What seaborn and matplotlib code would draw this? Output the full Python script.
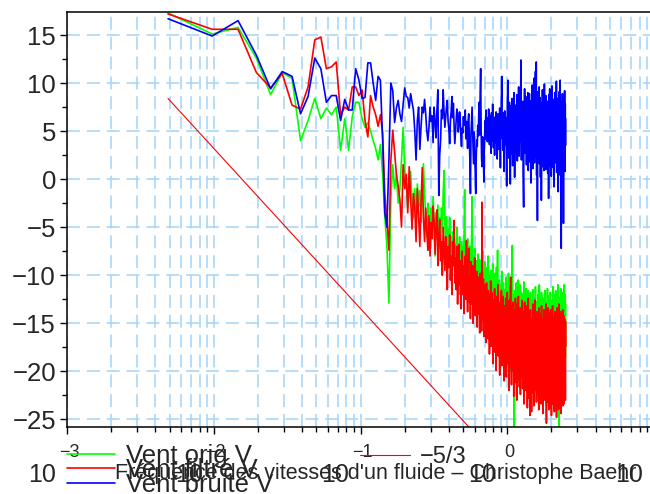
import numpy as np
import pandas as pd
import matplotlib
matplotlib.use("Agg")
import matplotlib.pyplot as plt
import seaborn as sns
from matplotlib.ticker import FixedLocator, LogLocator, NullFormatter, MultipleLocator

# Frequency resolution of the spectra (Hz)
df_hz = 0.00488

# Power spectra in dB, one value per frequency bin k*df_hz (k = 1 ...)
vent_orig = [
    17.3, 15.1, 15.8, 12.6, 8.8, 11.1, 10.5, 4.0, 6.1, 8.4,
    6.3, 7.4, 6.7, 7.5, 3.0, 6.3, 3.0, 6.5, 8.0, 8.0,
    6.3, 5.4, 5.9, 5.0, 4.0, 3.2, 2.0, 3.6, 0.5, -3.9,
    -6.9, -12.9, -2.0, 1.5, -1.0, 0.5, -2.5, -1.0, 2.0, 5.4,
    1.0, -0.5, -3.0, -1.5, 0.8, -2.2, -4.0, -1.0, -3.5, -0.5,
    -2.8, -1.2, -4.5, -2.0, 1.6, -1.5, -3.8, -6.0, -2.5, -4.2,
    -7.5, -3.0, -5.0, -1.8, -4.6, -8.0, -3.5, -5.8, -2.7, -6.5,
    -4.0, -7.2, -3.0, -5.5, -1.5, 0.9, -4.8, -6.8, -3.9, -9.0,
    -5.2, -7.5, -4.0, -8.6, -6.0, -10.5, -5.5, -7.8, -4.5, -9.5,
    -6.8, -8.5, -5.0, -11.0, -7.2, -9.0, -6.0, -12.0, -8.0, -6.5,
    -9.5, -7.0, -10.8, -5.5, -1.1, -8.2, -11.5, -7.5, -9.8, -6.2,
    -12.5, -8.8, -10.0, -7.0, -13.0, -9.2, -6.4, -1.8, -10.5, -8.0,
    -11.8, -9.0, -7.2, -12.8, -10.2, -8.5, -14.0, -9.5, -11.0, -7.8,
    -12.2, -10.0, -8.4, -13.5, -11.2, -9.0, -14.8, -10.5, -7.5, -12.0,
    -9.8, -15.5, -11.0, -8.6, -13.2, -10.2, -16.0, -12.0, -9.2, -13.8,
    -11.0, -8.0, -14.5, -12.5, -10.0, -16.5, -11.8, -9.5, -13.0, -15.2,
    -10.8, -12.6, -8.8, -14.0, -11.5, -17.0, -13.2, -9.8, -12.0, -15.8,
    -11.2, -13.5, -9.2, -16.2, -12.8, -7.4, -14.4, -11.0, -17.5, -13.0,
    -10.5, -15.0, -12.2, -18.0, -13.6, -11.0, -16.5, -9.6, -14.2, -12.5,
    -17.2, -13.0, -10.8, -15.5, -12.0, -18.5, -14.0, -11.5, -16.8, -13.3,
    -10.2, -15.8, -12.6, -19.0, -14.5, -11.8, -17.0, -13.4, -9.8, -16.2,
    -12.8, -18.2, -14.8, -11.2, -16.0, -13.6, -20.0, -10.6, -15.2, -12.4,
    -8.5, -6.9, -14.0, -17.8, -12.0, -15.5, -19.5, -13.0, -25.9, -16.5,
    -11.6, -14.6, -18.0, -12.8, -16.2, -10.8, -15.0, -13.2, -19.0, -11.5,
    -16.8, -13.8, -10.5, -17.5, -14.2, -21.0, -12.4, -15.8, -18.4, -11.0,
    -14.5, -16.9, -12.2, -19.8, -15.0, -11.8, -17.2, -13.6, -20.5, -14.8,
    -12.0, -16.4, -18.6, -13.0, -15.6, -10.7, -17.8, -14.2, -22.0, -12.6,
    -16.0, -19.4, -13.8, -15.2, -11.4, -18.0, -14.6, -21.2, -12.8, -16.6,
    -14.0, -19.0, -11.6, -17.4, -15.4, -22.5, -13.2, -16.2, -18.8, -12.2,
    -15.0, -20.2, -14.4, -17.0, -11.8, -19.6, -16.4, -13.6, -21.8, -15.2,
    -12.6, -18.2, -14.8, -20.8, -16.0, -11.5, -17.6, -14.0, -19.2, -13.0,
    -16.8, -22.4, -15.4, -12.4, -18.6, -14.6, -20.0, -16.2, -11.2, -17.8,
    -14.2, -19.6, -13.4, -21.4, -15.8, -12.8, -18.4, -16.6, -23.0, -14.0,
    -17.2, -12.0, -19.8, -15.0, -21.6, -13.6, -16.4, -18.8, -11.0, -15.6,
    -20.4, -14.4, -17.0, -12.6, -19.0, -16.2, -22.2, -13.8, -15.4, -18.0,
    -11.8, -16.8, -20.6, -14.6, -18.2, -13.0, -21.0, -15.8, -17.4, -12.4,
    -19.4, -16.0, -14.2, -22.8, -17.6, -13.4, -18.8, -15.2, -20.2, -11.6,
    -16.6, -19.0, -14.0, -21.8, -17.2, -12.8, -18.4, -15.6, -23.6, -16.4,
    -13.2, -19.6, -15.0, -17.8, -11.4, -20.8, -16.2, -14.4, -18.6, -22.0,
    -15.4, -12.2, -19.2, -16.8, -21.2, -14.6, -17.6, -13.0, -20.4, -15.8,
    -18.2, -11.8, -16.6, -22.6, -14.8, -19.8, -17.0, -13.6, -21.4, -16.0,
    -12.6, -18.8, -15.4, -20.6, -17.4, -14.0, -23.2, -16.4, -11.2, -19.4,
    -15.2, -17.8, -21.6, -13.4, -18.4, -16.2, -14.6, -20.0, -12.0, -17.0,
    -19.6, -15.6, -22.4, -13.8, -18.0, -16.6, -20.8, -11.6, -17.4, -14.2,
    -21.0, -16.8, -13.2, -19.0, -15.0, -23.0, -17.8, -12.8, -18.6, -15.8,
    -20.2, -14.4, -17.2, -11.0, -19.8, -16.0, -21.8, -13.6, -18.2, -15.2,
    -22.2, -17.6, -25.9, -14.8, -19.2, -12.4, -16.4, -20.6, -15.4, -18.0,
    -13.0, -21.2, -16.2, -11.4, -19.4, -14.6, -17.0, -22.6, -15.0, -18.8,
    -12.2, -20.0, -16.6, -14.0, -21.4, -17.4, -11.8, -19.0, -15.6, -22.8,
    -16.8, -13.4, -20.4, -18.0, -12.6, -17.8, -21.0, -14.2, -19.6, -16.0,
    -11.0, -18.4, -15.2, -21.6, -13.8, -17.2, -20.8, -14.8, -12.0, -18.6,
    -15.8, -13.0,
]

vent_filtre = [
    17.2, 15.6, 15.6, 11.1, 9.5, 11.0, 7.7, 7.3, 9.6, 14.5,
    14.8, 11.5, 11.7, 12.2, 6.7, 7.5, 7.2, 9.6, 9.6, 8.7,
    9.3, 6.1, 4.4, 8.7, 7.5, 6.7, 5.5, 6.7, 4.8, -1.5,
    -4.3, -7.4, 2.0, 5.1, 2.8, 0.5, -0.7, -2.1, -5.0, 1.5,
    -1.0, 0.5, -3.5, 1.3, -2.0, -5.2, -1.5, -3.0, -6.5, -1.0,
    -3.8, -7.0, -2.5, 1.2, -4.0, -6.5, -3.0, -5.5, -7.4, -3.8,
    -8.0, -4.5, -6.2, -2.8, -4.3, -7.8, -5.0, -3.2, -9.0, -6.0,
    -4.2, -8.5, -6.5, -10.0, -5.0, -7.2, -9.5, -6.0, -8.0, -11.5,
    -7.0, -9.2, -5.8, -10.5, -8.0, -12.0, -6.5, -9.0, -4.3, -10.8,
    -8.2, -11.5, -7.0, -13.0, -9.5, -6.8, -11.0, -8.5, -13.5, -10.0,
    -7.5, -12.0, -9.0, -14.0, -10.5, -8.0, -12.5, -6.4, -11.0, -13.8,
    -9.5, -7.2, -12.8, -10.0, -14.5, -8.6, -11.6, -13.0, -9.0, -15.0,
    -10.8, -12.2, -8.2, -14.2, -11.0, -13.6, -9.6, -15.4, -12.0, -10.2,
    -14.0, -11.4, -16.0, -9.8, -13.0, -11.8, -15.8, -2.4, -12.6, -14.6,
    -10.4, -16.4, -12.8, -11.0, -15.0, -13.4, -17.0, -10.8, -14.2, -12.4,
    -16.6, -11.6, -14.8, -13.0, -18.2, -12.0, -15.4, -10.6, -17.4, -13.8,
    -11.8, -16.0, -14.0, -19.2, -12.6, -15.6, -18.0, -11.4, -14.6, -16.8,
    -13.2, -19.9, -15.0, -12.2, -17.6, -14.4, -11.0, -18.4, -15.8, -13.4,
    -16.6, -20.4, -12.8, -15.2, -18.6, -14.0, -11.6, -17.2, -19.4, -13.6,
    -16.0, -12.2, -18.8, -15.4, -21.0, -13.2, -17.0, -14.6, -19.8, -12.4,
    -16.4, -20.6, -14.2, -17.8, -11.8, -15.6, -19.2, -13.8, -18.0, -22.0,
    -15.0, -12.6, -17.4, -19.5, -14.4, -10.2, -18.2, -16.0, -21.4, -13.2,
    -17.0, -15.2, -20.0, -12.8, -18.6, -14.8, -22.6, -16.4, -13.6, -19.0,
    -15.6, -21.2, -12.4, -17.6, -19.8, -14.2, -16.8, -23.0, -13.0, -18.4,
    -15.4, -20.8, -16.2, -12.2, -19.6, -17.2, -14.0, -21.6, -15.8, -18.2,
    -13.4, -22.4, -16.6, -19.0, -14.6, -17.8, -20.6, -12.6, -18.8, -15.2,
    -21.8, -16.0, -13.8, -19.4, -17.4, -23.4, -15.0, -18.6, -12.8, -20.2,
    -16.8, -14.4, -22.0, -18.0, -15.6, -19.8, -13.2, -21.0, -17.0, -14.8,
    -23.8, -18.4, -16.2, -20.4, -12.4, -19.0, -15.4, -22.8, -17.6, -14.0,
    -20.8, -16.6, -24.6, -18.8, -13.6, -21.4, -15.8, -19.6, -17.2, -24.2,
    -14.6, -20.0, -16.4, -22.2, -18.2, -13.0, -21.0, -15.2, -19.4, -17.0,
    -23.6, -14.2, -18.6, -20.6, -16.0, -22.0, -12.6, -19.2, -17.8, -15.0,
    -21.6, -18.0, -14.4, -23.2, -16.8, -20.2, -13.8, -19.0, -22.4, -15.6,
    -17.4, -21.2, -14.8, -19.8, -16.2, -24.0, -13.4, -20.6, -18.4, -15.2,
    -22.6, -17.0, -19.6, -14.0, -21.8, -16.6, -18.8, -23.4, -15.0, -20.0,
    -13.2, -18.2, -22.0, -16.4, -19.4, -14.6, -21.2, -17.6, -24.4, -15.8,
    -19.0, -22.8, -16.0, -18.6, -13.6, -21.6, -17.2, -20.4, -14.8, -23.0,
    -18.0, -15.4, -21.0, -16.8, -19.8, -13.0, -22.4, -17.6, -25.4, -16.2,
    -20.2, -14.2, -18.8, -23.2, -15.6, -19.4, -21.8, -16.4, -13.4, -20.8,
    -17.8, -22.6, -15.2, -19.0, -24.0, -16.6, -18.4, -14.0, -21.4, -17.4,
    -23.8, -15.8, -19.6, -13.6, -22.0, -18.0, -16.2, -20.6, -14.8, -24.6,
    -17.0, -21.0, -15.4, -19.2, -22.8, -16.0, -13.2, -20.0, -18.6, -23.4,
    -15.0, -19.8, -17.2, -21.6, -14.4, -22.2, -18.2, -16.6, -24.2, -15.6,
    -20.4, -17.8, -13.8, -21.2, -19.0, -16.2, -23.6, -14.6, -18.8, -22.0,
    -16.4, -20.8, -15.0, -24.8, -17.6, -19.4, -13.4, -21.8, -16.8, -23.0,
    -18.2, -15.2, -22.4, -19.8, -14.0, -21.4, -17.0, -24.0, -16.0, -20.2,
    -13.0, -19.0, -22.6, -15.8, -18.4, -21.0, -14.8, -23.8, -17.4, -20.6,
    -15.4, -22.2, -18.0, -13.8, -21.6, -16.6, -24.4, -19.2, -15.0, -20.0,
    -17.8, -23.0, -14.4, -19.6, -22.0, -16.2, -18.6, -21.4, -13.6, -23.6,
    -17.2, -20.4, -15.6, -22.8, -18.8, -14.2, -21.2, -16.8, -23.4, -19.0,
    -15.2, -20.8, -17.6, -22.4, -14.6, -19.4, -21.8, -16.4, -18.2, -23.0,
    -14.8, -17.4,
]

vent_bruite = [
    16.7, 14.9, 16.5, 12.9, 9.4, 11.2, 10.7, 6.8, 8.6, 12.6,
    11.5, 8.0, 8.7, 8.7, 6.1, 8.3, 7.2, 7.2, 11.5, 10.3,
    8.4, 8.5, 12.1, 12.1, 10.0, 8.2, 10.7, 10.3, 4.0, -3.5,
    -5.0, 2.0, 10.0, 9.2, 5.9, 7.4, 8.2, 6.8, 6.0, 7.8,
    9.5, 8.6, 8.5, 7.4, 8.9, 8.0, 7.2, 5.1, 2.0, 6.1,
    7.5, 3.1, 5.5, 7.5, 6.9, 8.3, 6.8, 5.0, 4.0, 5.4,
    7.5, 6.0, 6.6, 3.8, 7.5, 6.0, 4.3, 7.2, 9.3, -1.7,
    2.5, 4.0, 7.2, 6.3, 9.3, 7.0, 5.4, 6.4, 7.5, 8.2,
    6.0, 5.2, 3.7, 5.9, 7.1, 8.6, 6.4, 7.9, 5.5, 3.7,
    5.0, 6.2, 7.3, 6.8, 4.9, 5.7, 7.0, 6.2, 4.4, 3.4,
    5.3, 4.8, 6.5, 5.6, 6.1, 7.2, 4.2, 6.0, 5.1, 3.2,
    6.2, 6.8, 4.5, 2.0, -1.5, 4.6, 6.0, 7.5, 5.2, 3.0,
    1.6, 4.9, 3.0, 0.5, -1.5, 2.3, 4.1, 3.4, 5.6, 4.5,
    6.7, 8.0, 4.6, 9.0, 11.5, 5.3, 2.1, 1.3, 4.4, 3.2,
    2.4, -0.3, 3.5, 5.0, 6.1, 4.2, 7.2, 5.5, 6.4, 3.9,
    5.8, 4.5, 7.3, 6.2, 3.6, 5.1, 6.6, 4.8, 2.7, 6.9,
    4.0, 5.9, 7.8, 5.4, 3.3, 6.1, 4.7, 2.5, 5.0, 6.5,
    3.8, 7.0, 4.6, 5.7, 2.1, 4.4, 6.8, 5.2, 3.1, 6.0,
    4.3, 7.4, 5.5, 1.2, 4.9, 6.3, 8.5, 10.7, 6.0, 4.2,
    5.6, 3.0, 6.9, 4.7, 0.8, 5.3, 7.1, 3.6, 5.8, 4.0,
    6.4, 2.9, -0.7, 4.1, 6.7, 9.2, 10.3, 7.0, 4.5, 2.2,
    5.1, 8.0, 6.3, 3.5, -0.5, 4.8, 7.6, 5.0, 2.6, 6.2,
    8.4, 4.9, 1.4, 5.7, 7.9, 3.8, 6.5, 9.0, 5.3, 0.2,
    3.7, 6.8, 4.2, 7.7, 5.5, 2.8, 6.1, 8.8, 4.6, 1.9,
    5.4, 7.2, 3.3, 6.6, 9.6, 4.0, 2.4, 6.9, 5.1, 8.3,
    3.9, 6.3, 10.1, 12.4, 5.6, 2.0, 7.4, 4.4, 6.8, 3.1,
    5.9, 8.1, 0.6, -1.0, -2.9, 3.8, 7.0, 5.2, 9.4, 4.1,
    6.5, 2.7, 5.8, 8.6, 3.5, 6.9, 1.5, 4.8, 7.3, 5.0,
    2.2, 6.1, 9.0, 4.5, 0.9, 5.6, 7.9, 3.2, 6.4, 8.9,
    4.7, 1.8, 6.0, 3.4, 7.5, 5.2, -0.4, 4.3, 8.2, 6.1,
    3.0, 5.7, 9.8, 4.9, 2.5, 6.6, 1.1, 5.5, 7.7, 3.6,
    6.3, 10.5, 4.2, 1.7, 5.9, 8.4, 3.9, 6.8, 11.2, 5.0,
    2.3, 7.5, 12.2, 4.6, 0.4, 6.2, 9.1, 3.3, -4.3, 5.4,
    8.0, 4.4, 6.9, 2.1, 5.3, 7.8, 3.0, 9.6, 4.8, 1.6,
    6.6, 3.7, 8.5, 5.1, 0.2, 4.0, 7.2, 2.6, 6.4, -2.2,
    3.5, 7.9, 5.0, 1.3, 6.1, 9.3, 4.2, 2.4, 7.1, 5.5,
    3.1, 8.2, 4.7, 0.9, 6.3, 3.8, 9.9, 5.2, 1.9, 7.0,
    4.4, 6.8, 2.7, 5.6, 8.7, 3.6, 1.0, 6.5, 4.1, 7.6,
    5.3, 2.2, 6.9, 3.4, 8.1, 4.9, 0.6, 5.8, 7.3, 3.2,
    6.0, -2.0, 4.5, 8.8, 5.1, 2.9, 6.7, 4.0, 9.4, 3.7,
    1.4, 5.9, 7.8, 4.3, 6.2, 2.5, 8.0, 5.4, 0.3, 6.6,
    3.9, 7.2, 4.6, 9.7, 5.0, 2.0, 6.4, 3.3, 7.7, 4.8,
    1.2, 5.7, 8.3, 3.6, 6.0, 4.2, -0.8, 5.5, 7.4, 2.8,
    6.1, 9.0, 4.4, 1.7, 5.2, 7.9, 3.1, 6.5, 4.0, 8.6,
    2.3, 5.6, 10.2, 4.7, 0.7, 6.3, 3.5, 7.1, 5.0, 2.6,
    6.8, 4.1, 8.4, 3.0, 5.9, -1.3, 4.5, 7.6, 5.3, 2.1,
    6.2, 3.8, 9.1, 4.9, 1.5, 6.7, 3.2, 7.3, 5.6, 10.3,
    4.3, 0.4, 6.0, 3.6, 8.0, 5.2, 2.7, -7.2, 4.6, 6.9,
    3.4, 7.7, 5.1, 1.9, 6.4, 4.0, 8.9, 5.7, 2.4, 6.1,
    3.9, 7.2, 4.8, 1.0, -4.6, 5.5, 8.3, 3.3, 6.6, 4.4,
    2.0, 7.0, 5.3, 9.2, 3.7, 6.2, 0.8, 4.9, 7.8, 5.6,
    3.5, 6.3,
]

# Kolmogorov -5/3 reference slope (end points)
kolmo_f = [0.00488, 2.5]
kolmo_db = [8.4, -36.8]

series_labels = ["Vent orig V", "Vent filtré V", "Vent bruité V"]
series_colors = ["#00ff00", "#ff0000", "#0000ff"]
decades = [-3, -2, -1, 0, 1]
kolmo_label = "\u22125/3"
xlabel = "Fréquence des vitesses d'un fluide \u2013 Christophe Baehr"

frames = []
for lab, vals in zip(series_labels, [vent_orig, vent_filtre, vent_bruite]):
    f = df_hz * np.arange(1, len(vals) + 1)
    frames.append(pd.DataFrame({"freq": f, "db": vals, "serie": lab}))
data = pd.concat(frames, ignore_index=True)

sns.set_style("ticks")
plt.rcParams["font.family"] = ["Liberation Sans", "DejaVu Sans"]
plt.rcParams["axes.unicode_minus"] = True

W, H = 650, 494
fig = plt.figure(figsize=(W / 100, H / 100), dpi=100)
fig.patch.set_facecolor("white")
ax = fig.add_axes([67 / W, 1 - 427 / H, 587 / W, 415 / H])
ax.set_facecolor("white")
ax.set_xscale("log")

sns.lineplot(data=data, x="freq", y="db", hue="serie", hue_order=series_labels,
             palette=dict(zip(series_labels, series_colors)), lw=1.2,
             estimator=None, sort=False, legend=False, ax=ax)
sns.lineplot(x=kolmo_f, y=kolmo_db, color="#ff0000", lw=0.8, ax=ax)

ax.set_xlim(10.0 ** decades[0], 10.0 ** decades[-1])
ax.set_ylim(-25.8, 17.4)
ax.set_xlabel("")
ax.set_ylabel("")

# grid: dashed light blue, every log subdivision on x, every 5 dB on y
grid_kw = dict(color="#a3d3fb", lw=1.1, ls=(0, (8.5, 4.5)))
ax.xaxis.set_major_locator(FixedLocator([10.0 ** d for d in decades]))
ax.xaxis.set_minor_locator(LogLocator(base=10, subs=np.arange(2, 10)))
ax.xaxis.set_minor_formatter(NullFormatter())
ax.set_xticklabels([])
ax.yaxis.set_major_locator(MultipleLocator(5))
ax.yaxis.set_minor_locator(MultipleLocator(2.5))
ax.grid(True, which="both", axis="x", **grid_kw)
ax.grid(True, which="major", axis="y", **grid_kw)
ax.set_axisbelow(True)

ax.tick_params(which="major", direction="out", length=5, width=1, color="black",
               labelsize=18.5, pad=3)
ax.tick_params(which="minor", direction="out", length=3.5, width=1, color="black")
ax.tick_params(axis="y", which="both", right=False)
ax.tick_params(axis="x", which="both", top=False)
for side in ["left", "bottom", "top"]:
    ax.spines[side].set_color("black")
    ax.spines[side].set_linewidth(1.1)
ax.spines["right"].set_visible(False)

# decade labels: mantissa and exponent set as separate texts
for d in decades:
    exp_txt = ("\u2212" + str(-d)) if d < 0 else str(d)
    ax.annotate(exp_txt, xy=(10.0 ** d, 0), xycoords=("data", "axes fraction"),
                xytext=(1.5, -21.6), textcoords="offset points",
                ha="center", va="baseline", fontsize=13, annotation_clip=False)
    ax.annotate("10", xy=(10.0 ** d, 0), xycoords=("data", "axes fraction"),
                xytext=(-18, -39.6), textcoords="offset points",
                ha="center", va="baseline", fontsize=18, annotation_clip=False)

lines = ax.get_lines()
row_y = [456, 470, 485]
for line, lab, yy in zip(lines[:3], series_labels, row_y):
    leg = fig.legend([line], [lab], loc="center left",
                     bbox_to_anchor=(67 / W, 1 - yy / H), frameon=False,
                     fontsize=18.5, handlelength=1.85, handletextpad=0.45,
                     borderpad=0, borderaxespad=0)
fig.legend(lines[3:4], [kolmo_label], loc="center left",
           bbox_to_anchor=(360 / W, 1 - 457 / H), frameon=False,
           fontsize=17, handlelength=2.1, handletextpad=0.45,
           borderpad=0, borderaxespad=0)

fig.text(115 / W, 1 - 479 / H, xlabel, fontsize=15.5, ha="left", va="baseline")

fig.savefig("out.png", dpi=100, facecolor="white")
